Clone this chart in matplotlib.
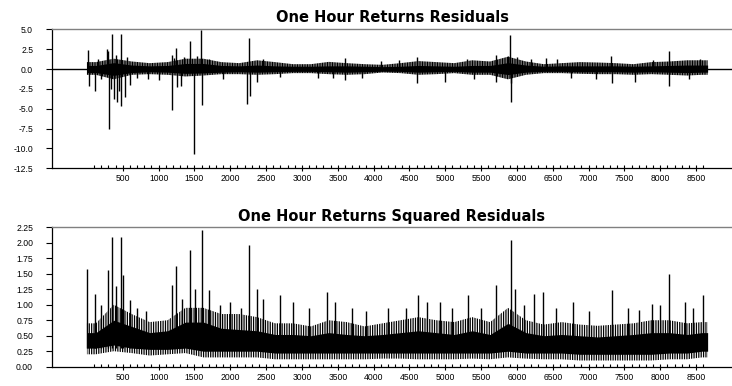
import numpy as np
import matplotlib
matplotlib.use("Agg")
import matplotlib.pyplot as plt
from matplotlib.ticker import FixedLocator, NullFormatter

plt.rcParams['font.family'] = ['Liberation Sans', 'DejaVu Sans']
plt.rcParams['hatch.linewidth'] = 0.9
plt.rcParams['hatch.color'] = 'black'

# ---------------- data ----------------
n_obs = 8660
bin_start = list(range(0, 8660, 250))          # 250-observation bins

# Panel 1: residuals - outer envelope of the noisy band per bin
resid_hi = [0.87, 1.30, 0.95, 0.74, 0.87, 1.30, 1.30, 0.87, 0.74, 1.10,
            0.87, 0.61, 0.61, 0.90, 0.74, 0.61, 0.53, 0.74, 1.00, 0.87,
            0.74, 1.10, 0.95, 1.55, 0.95, 0.61, 0.74, 0.87, 0.82, 0.74,
            0.61, 0.87, 0.95, 1.10, 1.10]
resid_lo = [-0.73, -1.30, -0.73, -0.65, -0.73, -0.94, -0.82, -0.65, -0.65, -0.73,
            -0.65, -0.52, -0.52, -0.65, -0.73, -0.65, -0.44, -0.52, -0.73, -0.65,
            -0.52, -0.73, -0.73, -1.30, -0.73, -0.52, -0.52, -0.60, -0.65, -0.65,
            -0.73, -0.65, -0.73, -0.82, -0.73]
# Panel 1: solid core of the band per bin
resid_core_hi = [0.45, 0.80, 0.50, 0.40, 0.45, 0.70, 0.70, 0.45, 0.40, 0.50,
                 0.40, 0.35, 0.35, 0.40, 0.40, 0.35, 0.30, 0.35, 0.45, 0.40,
                 0.35, 0.45, 0.45, 0.80, 0.50, 0.35, 0.40, 0.40, 0.40, 0.40,
                 0.35, 0.40, 0.45, 0.50, 0.50]
resid_core_lo = [-0.45, -0.80, -0.45, -0.35, -0.40, -0.55, -0.50, -0.40, -0.35, -0.40,
                 -0.35, -0.30, -0.30, -0.35, -0.40, -0.35, -0.28, -0.30, -0.40, -0.35,
                 -0.30, -0.40, -0.40, -0.70, -0.40, -0.30, -0.30, -0.35, -0.35, -0.35,
                 -0.40, -0.35, -0.40, -0.45, -0.40]
# Panel 1: isolated spikes (observation, residual)
resid_spike_obs = [20, 25, 108, 150, 200, 280, 290, 313, 330, 350, 380, 400, 415, 450, 475, 480,
                   527, 560, 606, 700, 850, 1000, 1187, 1190, 1220, 1248, 1260, 1313, 1350,
                   1434, 1494, 1540, 1596, 1600, 1700, 1900, 2229, 2266, 2275, 2380, 2450,
                   2700, 3230, 3430, 3600, 3605, 3840, 4100, 4350,
                   4600, 4605, 4990, 5300, 5400, 5707, 5710, 5880, 5907, 5910, 5920, 6000,
                   6200, 6400, 6560, 6760, 7100, 7315, 7320, 7650, 7900, 8120, 8125, 8400, 8560]
resid_spike_val = [2.4, -2.2, -2.75, 1.2, -1.3, 2.5, 2.3, -7.5, -2.5, 4.45, -3.8, 1.8, -4.2, -2.8, -4.6, 4.4,
                   -3.5, 1.5, -2.0, -1.1, -1.2, -1.4, -5.1, 1.8, 1.4, 2.6, -2.3, -2.2, 1.5,
                   3.55, -10.7, 1.6, 4.95, -4.5, 1.3, -1.2, -4.4, 3.9, -3.4, -1.6, 1.3,
                   -1.0, -1.1, -1.15, 1.4, -1.4, -1.15, 1.0, 1.1,
                   1.45, -1.7, -1.6, 1.2, -1.2, 1.8, -1.65, 1.6, 4.3, -4.1, -1.8, 1.5,
                   1.2, 1.4, 1.2, -1.15, -1.2, 1.6, -1.8, -1.65, 1.1, 2.3, -2.1, -1.2, 1.3]

# Panel 2: squared residuals - outer envelope per bin
sq_hi = [0.70, 1.00, 0.85, 0.72, 0.75, 0.95, 0.95, 0.85, 0.85, 0.80,
         0.70, 0.70, 0.65, 0.75, 0.72, 0.65, 0.70, 0.75, 0.80, 0.75,
         0.72, 0.80, 0.72, 0.95, 0.75, 0.68, 0.72, 0.68, 0.66, 0.68,
         0.70, 0.75, 0.75, 0.70, 0.72]
sq_lo = [0.20, 0.25, 0.22, 0.18, 0.20, 0.22, 0.15, 0.15, 0.15, 0.15,
         0.12, 0.12, 0.12, 0.12, 0.12, 0.12, 0.13, 0.13, 0.12, 0.12,
         0.12, 0.13, 0.12, 0.15, 0.13, 0.12, 0.12, 0.10, 0.10, 0.10,
         0.10, 0.10, 0.12, 0.12, 0.15]
# Panel 2: dense core per bin
sq_core_hi = [0.55, 0.75, 0.65, 0.55, 0.58, 0.72, 0.72, 0.62, 0.60, 0.58,
              0.52, 0.52, 0.50, 0.55, 0.52, 0.50, 0.52, 0.55, 0.58, 0.55,
              0.52, 0.58, 0.52, 0.70, 0.55, 0.50, 0.52, 0.50, 0.48, 0.50,
              0.52, 0.55, 0.55, 0.52, 0.55]
sq_core_lo = [0.30, 0.35, 0.30, 0.28, 0.28, 0.30, 0.25, 0.25, 0.25, 0.25,
              0.22, 0.22, 0.22, 0.22, 0.22, 0.22, 0.22, 0.22, 0.22, 0.22,
              0.22, 0.22, 0.22, 0.25, 0.22, 0.22, 0.22, 0.20, 0.20, 0.20,
              0.20, 0.20, 0.22, 0.22, 0.25]
sq_spike_obs = [6, 113, 200, 299, 345, 400, 476, 499, 601, 700, 820, 1182, 1243, 1320, 1438, 1508,
                1601, 1708, 1850, 2000, 2150, 2266, 2369, 2462, 2694, 2880, 3100, 3345, 3461,
                3700, 3900, 4200, 4450, 4624, 4741, 4927, 5100, 5322, 5500,
                5708, 5917, 5973, 6100, 6243, 6368, 6550, 6787, 7000, 7321, 7550, 7700, 7879,
                8000, 8126, 8344, 8450, 8591]
sq_spike_val = [1.58, 1.17, 1.00, 1.56, 2.10, 1.30, 2.10, 1.48, 1.08, 0.95, 0.90, 1.32, 1.62, 1.10, 1.88, 1.26,
                2.21, 1.24, 1.00, 1.05, 0.95, 1.96, 1.26, 1.10, 1.16, 1.05, 0.95, 1.21, 1.05,
                0.95, 0.90, 0.95, 0.95, 1.16, 1.05, 1.05, 0.95, 1.16, 0.95,
                1.32, 2.05, 1.26, 1.00, 1.18, 1.21, 0.95, 1.05, 0.90, 1.24, 0.95, 0.92, 1.02,
                1.00, 1.50, 1.05, 0.95, 1.16]

titles = ["One Hour Returns Residuals", "One Hour Returns Squared Residuals"]
y_ticks_1 = [5.0, 2.5, 0.0, -2.5, -5.0, -7.5, -10.0, -12.5]
y_ticks_2 = [2.25, 2.00, 1.75, 1.50, 1.25, 1.00, 0.75, 0.50, 0.25, 0.00]
x_major = list(range(500, 8501, 500))
x_minor = list(range(100, 8601, 100))

# ---------------- drawing ----------------
W, H = 732, 386
fig = plt.figure(figsize=(W / 100, H / 100), dpi=100)

def px_box(left, top, right, bottom):
    return [left / W, 1 - bottom / H, (right - left) / W, (bottom - top) / H]

ax1 = fig.add_axes(px_box(52, 29.3, 732, 168.3))
ax2 = fig.add_axes(px_box(52, 227.3, 732, 366.7))

def band_xy(vals):
    centers = [b + 125 for b in bin_start]
    centers[-1] = (bin_start[-1] + n_obs) / 2
    x = np.array([0] + centers + [n_obs])
    y = np.array([vals[0]] + list(vals) + [vals[-1]])
    return x, y

def draw_band(ax, hi_v, lo_v, chi_v, clo_v, hatch):
    x, hi = band_xy(hi_v)
    _, lo = band_xy(lo_v)
    _, chi = band_xy(chi_v)
    _, clo = band_xy(clo_v)
    ax.fill_between(x, lo, hi, facecolor='none', edgecolor='black', hatch=hatch,
                    lw=0, zorder=2)
    ax.fill_between(x, clo, chi, color='black', lw=0, zorder=2)

# Panel 1
ax1.axhline(0, color='black', lw=1.0, zorder=1)
draw_band(ax1, resid_hi, resid_lo, resid_core_hi, resid_core_lo, '||||||||||')
ax1.vlines(resid_spike_obs, 0, resid_spike_val, color='black', lw=1.0, zorder=3)
ax1.set_ylim(-12.5, 5.0)
ax1.set_yticks(y_ticks_1)
ax1.set_yticklabels([f"{v:.1f}" for v in y_ticks_1])

# Panel 2
draw_band(ax2, sq_hi, sq_lo, sq_core_hi, sq_core_lo, '|||||||')
ax2.vlines(sq_spike_obs, 0.3, sq_spike_val, color='black', lw=1.0, zorder=3)
ax2.set_ylim(0.0, 2.25)
ax2.set_yticks(y_ticks_2)
ax2.set_yticklabels([f"{v:.2f}" for v in y_ticks_2])

for ax, title, ty in ((ax1, titles[0], 17.5), (ax2, titles[1], 216.5)):
    ax.set_xlim(-487, 9000)
    ax.xaxis.set_major_locator(FixedLocator(x_major))
    ax.xaxis.set_minor_locator(FixedLocator(x_minor))
    ax.xaxis.set_minor_formatter(NullFormatter())
    ax.set_xticklabels([str(v) for v in x_major])
    ax.tick_params(axis='x', which='major', direction='inout', length=4.3, width=0.8,
                   labelsize=6.2, pad=2.3, colors='black')
    ax.tick_params(axis='x', which='minor', direction='in', length=2.2, width=0.8)
    ax.tick_params(axis='y', which='major', direction='out', length=4, width=0.8,
                   labelsize=6.2, pad=9.6)
    for lab in ax.get_yticklabels():
        lab.set_horizontalalignment('right')
    ax.spines['right'].set_visible(False)
    ax.spines['top'].set_color('#808080')
    ax.spines['top'].set_linewidth(1.0)
    ax.spines['left'].set_linewidth(0.9)
    ax.spines['bottom'].set_linewidth(0.9)
    ax.set_facecolor('white')
    fig.text(392 / W, 1 - ty / H, title, ha='center', va='center',
             fontsize=10.5, fontweight='bold', family=['DejaVu Sans'])

fig.savefig("out.png", dpi=100)
